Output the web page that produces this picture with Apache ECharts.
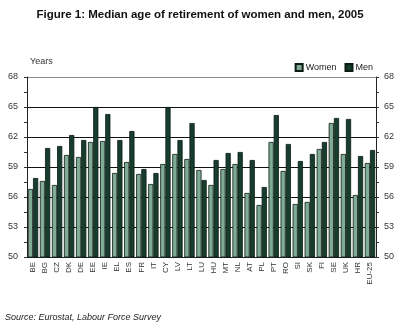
<!DOCTYPE html>
<html>
<head>
<meta charset="utf-8">
<script src="https://cdn.jsdelivr.net/npm/echarts@6/dist/echarts.min.js"></script>
<style>
html,body{margin:0;padding:0;background:#fff;}
#c{width:400px;height:329px;}
</style>
</head>
<body>
<div id="c"></div>
<script>
var categories = ["BE","BG","CZ","DK","DE","EE","IE","EL","ES","FR","IT","CY","LV","LT","LU","HU","MT","NL","AT","PL","PT","RO","SI","SK","FI","SE","UK","HR","EU-25"];
var women = [56.8,57.6,57.2,60.2,60.0,61.5,61.6,58.4,59.5,58.3,57.3,59.3,60.3,59.8,58.7,57.2,58.8,59.3,56.4,55.2,61.5,58.6,55.3,55.5,60.8,63.4,60.3,56.2,59.4];
var men = [57.9,60.9,61.1,62.2,61.7,65.0,64.3,61.7,62.6,58.8,58.4,65.0,61.7,63.4,57.7,59.7,60.4,60.5,59.7,57.0,64.2,61.3,59.6,60.3,61.5,63.9,63.8,60.1,60.7];
var yTicks = [50,53,56,59,62,65,68];

var chart = echarts.init(document.getElementById('c'), null, {renderer:'canvas'});
var font = 'Liberation Sans, Arial, sans-serif';
function yAxis(pos){
  return {
    type:'value', position:pos, min:yTicks[0], max:yTicks[yTicks.length-1], interval:3,
    axisLine:{show:true, lineStyle:{color:'#222', width:1}},
    axisTick:{show:true, length:3, lineStyle:{color:'#333'}},
    minorTick:{show:true, splitNumber:2, length:3, lineStyle:{color:'#333'}},
    splitLine:{show:pos==='left', lineStyle:{color:['#111','#111','#111','#111','#111','#111','#8a8a8a'], width:1}},
    axisLabel:{color:'#333', fontSize:9, fontFamily:font, margin:pos==='left'?9:8}
  };
}
chart.setOption({
  animation:false,
  title:{
    text:'Figure 1: Median age of retirement of women and men, 2005',
    left:'center', top:4,
    textStyle:{fontSize:11.5, fontWeight:'bold', color:'#111', fontFamily:font}
  },
  graphic:[
    {type:'text', left:30, top:57, style:{text:'Years', fontSize:9, fill:'#333', fontFamily:font}},
    {type:'text', left:5, top:313, style:{text:'Source: Eurostat, Labour Force Survey', fontSize:9, fontStyle:'italic', fill:'#222', fontFamily:font}}
  ],
  legend:{
    right:22, top:58, itemWidth:7, itemHeight:7, itemGap:8,
    textStyle:{fontSize:9, color:'#222', fontFamily:font, padding:[0,0,0,-2]},
    data:[{name:'Women', icon:'rect'},{name:'Men', icon:'rect'}]
  },
  grid:{left:27, right:24, top:77, bottom:72, containLabel:false},
  xAxis:{
    type:'category', data:categories,
    axisLine:{show:true, lineStyle:{color:'#222'}},
    axisTick:{show:false},
    axisLabel:{rotate:90, fontSize:8, color:'#333', fontFamily:font, margin:5, interval:0}
  },
  yAxis:[yAxis('left'), yAxis('right')],
  series:[
    {name:'Women', type:'bar', data:women, yAxisIndex:0, barGap:'0%', barCategoryGap:'14%',
     itemStyle:{color:'#7fab97', borderColor:'#0b1a13', borderWidth:0.8}},
    {name:'Men', type:'bar', data:men, yAxisIndex:0,
     itemStyle:{color:'#173d2e', borderColor:'#0b1a13', borderWidth:0.8}}
  ]
});
</script>
</body>
</html>
